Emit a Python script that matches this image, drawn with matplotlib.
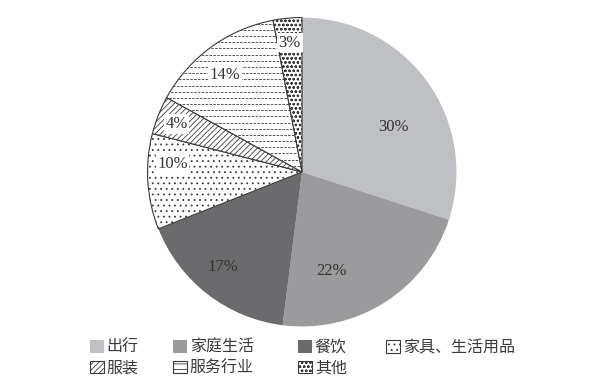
import matplotlib
matplotlib.use("Agg")
import matplotlib.pyplot as plt
from matplotlib.patches import Patch
import numpy as np

categories = ["出行", "家庭生活", "餐饮", "家具、生活用品", "服装", "服务行业", "其他"]
values = [30, 22, 17, 10, 4, 14, 3]

colors = ["#bfc0c4", "#9b9b9d", "#6b6b6d", "white", "white", "white", "white"]
hatches = [None, None, None, "...", "//////", None, "oooo"]
edges = ["none", "none", "none", "#3a3a3a", "#3a3a3a", "#3a3a3a", "#3a3a3a"]
dashed_fill = [False, False, False, False, False, True, False]
label_frac = [0.59, 0.70, 0.53, 0.70, 0.45, 0.45, 0.5]
label_rad = [0.66, 0.67, 0.80, 0.84, 0.87, 0.80, 0.84]

plt.rcParams["font.family"] = ["Noto Sans CJK SC", "DejaVu Sans"]
plt.rcParams["hatch.linewidth"] = 0.6

fig = plt.figure(figsize=(6.0, 3.86), dpi=100)
ax = fig.add_axes([(302 - 156) / 600, (386 - 328) / 386, 312 / 600, 312 / 386])
wedges, _ = ax.pie(values, colors=colors, startangle=90, counterclock=False,
                   radius=1.0, wedgeprops=dict(linewidth=0.8))
for w, h, e in zip(wedges, hatches, edges):
    w.set_edgecolor(e)
    if h:
        w.set_hatch(h)

# dashed horizontal texture (custom hatch) clipped to wedge
for w, d in zip(wedges, dashed_fill):
    if not d:
        continue
    for k, yy in enumerate(np.arange(-1.0, 1.0, 0.04)):
        ln, = ax.plot([-1.05, 1.05], [yy, yy], color="#3a3a3a", lw=0.6,
                      linestyle=(2.3 if k % 2 else 0.0, (3.0, 1.6)),
                      dash_capstyle="butt", zorder=w.get_zorder() + 0.1)
        ln.set_clip_path(w)

ax.set_xlim(-1.01, 1.01)
ax.set_ylim(-1.01, 1.01)
ax.set_aspect("equal")
ax.axis("off")

for i, (w, v) in enumerate(zip(wedges, values)):
    t1, t2 = w.theta1, w.theta2
    ang = np.deg2rad(t2 - (t2 - t1) * label_frac[i])
    r = label_rad[i]
    kw = {}
    if edges[i] != "none":
        kw["bbox"] = dict(boxstyle="square,pad=0.1", fc="white", ec="none")
    ax.text(r * np.cos(ang), r * np.sin(ang), f"{v}%", ha="center", va="center",
            fontsize=12, family=["Liberation Serif"], color="#333333", zorder=10, **kw)

handles = []
for i, w in enumerate(wedges):
    if dashed_fill[i]:
        handles.append(Patch(facecolor="white", edgecolor=edges[i], hatch="---", linewidth=0.8))
    else:
        handles.append(w)

col_x = [90, 173, 298, 386]
cols = [[0, 4], [1, 5], [2, 6], [3]]
for cx, idx in zip(col_x, cols):
    leg = fig.legend([handles[i] for i in idx], [categories[i] for i in idx],
                     loc="upper left", bbox_to_anchor=(cx / 600, 1 - 339 / 386),
                     frameon=False, fontsize=11.5, handlelength=0.85, handleheight=0.85,
                     handletextpad=0.2, labelspacing=0.22, borderpad=0, borderaxespad=0)
    for t in leg.get_texts():
        t.set_color("#3a3a3a")

fig.savefig("out.png", dpi=100)
